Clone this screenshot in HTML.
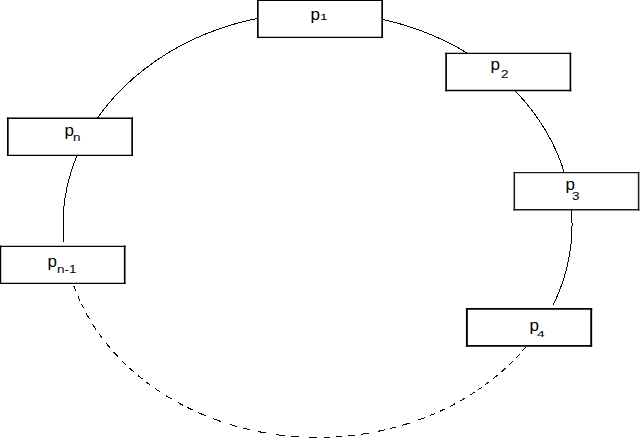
<!DOCTYPE html>
<html><head><meta charset="utf-8">
<style>
html,body{margin:0;padding:0;background:#fff;}
body{width:640px;height:438px;overflow:hidden;position:relative;font-family:"Liberation Sans",sans-serif;}
svg{position:absolute;left:0;top:0;}
.t{position:absolute;white-space:nowrap;color:#000;line-height:1;}
.p{font-size:17px;}
.s{font-size:10px;transform:scaleX(1.35);transform-origin:0 0;}
</style></head><body>
<svg width="640" height="438" viewBox="0 0 640 438">
<path d="M63.94,242.30 A254.479,212.509 0 1 1 553.47,304.60" fill="none" stroke="#000" stroke-width="1" shape-rendering="crispEdges"/>
<path d="M525.79,347.07 L524.72,348.33 523.63,349.59 522.54,350.84 M519.49,354.23 L518.35,355.46 517.20,356.69 516.03,357.91 M512.74,361.27 L511.51,362.49 510.26,363.70 509.01,364.91 M505.42,368.25 L504.09,369.46 502.74,370.67 501.37,371.87 M497.43,375.23 L496.01,376.41 494.58,377.57 493.14,378.73 M488.87,382.05 L487.56,383.04 486.24,384.02 484.92,384.99 M482.04,387.06 L480.78,387.94 479.52,388.82 478.24,389.69 M474.56,392.15 L473.03,393.14 471.48,394.13 469.93,395.11 M464.82,398.22 L463.13,399.21 461.44,400.19 459.73,401.16 M455.28,403.60 L453.56,404.52 451.82,405.43 450.08,406.32 M444.90,408.89 L443.15,409.73 441.39,410.55 439.62,411.37 M435.11,413.38 L433.31,414.16 431.50,414.92 429.68,415.67 M424.77,417.63 L422.51,418.50 420.24,419.34 417.95,420.17 M409.81,422.96 L407.35,423.74 404.88,424.51 402.41,425.25 M396.19,427.01 L394.04,427.58 391.89,428.14 389.73,428.68 M384.92,429.83 L382.52,430.37 380.10,430.89 377.68,431.39 M368.94,433.03 L366.37,433.46 363.79,433.87 361.21,434.26 M355.02,435.09 L352.76,435.37 350.49,435.62 348.22,435.86 M342.10,436.42 L339.98,436.58 337.85,436.73 335.73,436.87 M330.44,437.14 L328.21,437.22 325.98,437.29 323.75,437.35 M317.36,437.41 L314.59,437.39 311.82,437.35 309.05,437.29 M299.45,436.87 L296.59,436.69 293.74,436.47 290.90,436.24 M284.63,435.62 L281.75,435.29 278.87,434.94 276.00,434.55 M266.45,433.08 L263.51,432.56 260.57,432.01 257.64,431.43 M250.12,429.81 L247.65,429.23 245.18,428.63 242.72,428.01 M237.35,426.57 L234.80,425.86 232.26,425.11 229.73,424.35 M221.30,421.62 L218.55,420.66 215.81,419.68 213.08,418.67 M205.52,415.70 L203.13,414.71 200.75,413.70 198.38,412.66 M192.50,409.98 L190.62,409.08 188.75,408.17 186.89,407.25 M183.02,405.28 L181.22,404.33 179.43,403.37 177.65,402.40 M172.09,399.26 L170.09,398.09 168.11,396.90 166.13,395.69 M160.13,391.86 L158.32,390.66 156.53,389.45 154.76,388.23 M150.58,385.26 L149.11,384.18 147.64,383.09 146.18,381.99 M142.65,379.25 L141.19,378.09 139.75,376.92 138.31,375.74 M133.84,371.94 L132.44,370.71 131.04,369.46 129.66,368.21 M126.45,365.22 L125.06,363.89 123.68,362.55 122.32,361.20 M118.14,356.91 L116.67,355.35 115.23,353.78 113.80,352.20 M109.70,347.49 L108.36,345.90 107.04,344.29 105.74,342.67 M102.44,338.43 L101.27,336.86 100.11,335.29 98.97,333.71 M96.07,329.53 L94.92,327.82 93.79,326.10 92.68,324.36 M89.33,318.89 L88.28,317.08 87.24,315.27 86.23,313.45 M83.54,308.37 L82.77,306.86 82.02,305.34 81.28,303.81 M79.95,300.97 L79.27,299.48 78.60,297.97 77.95,296.47 M75.85,291.35 L75.17,289.61 74.51,287.86 73.87,286.10" fill="none" stroke="#000" stroke-width="1" shape-rendering="crispEdges"/>
<g>
<rect x="257.85" y="0.25" width="124.3" height="37.05" fill="#fff"/>
<path d="M256.90,0.25H383.10M256.90,37.30H383.10" stroke="#000" stroke-width="1.3" fill="none"/>
<path d="M257.85,-0.47V38.02M382.15,-0.47V38.02" stroke="#000" stroke-width="1.65" fill="none"/>
<rect x="446.1" y="53.45" width="124.3" height="37.05" fill="#fff"/>
<path d="M445.15,53.45H571.35M445.15,90.50H571.35" stroke="#000" stroke-width="1.3" fill="none"/>
<path d="M446.10,52.73V91.22M570.40,52.73V91.22" stroke="#000" stroke-width="1.65" fill="none"/>
<rect x="514.3" y="172.65" width="124.3" height="37.05" fill="#fff"/>
<path d="M513.55,172.65H639.35M513.55,209.70H639.35" stroke="#1a1a1a" stroke-width="1.35" fill="none"/>
<path d="M514.30,171.97V210.38M638.60,171.97V210.38" stroke="#1a1a1a" stroke-width="1.5" fill="none"/>
<rect x="466.9" y="308.8" width="124.3" height="37.05" fill="#fff"/>
<path d="M465.95,308.80H592.15M465.95,345.85H592.15" stroke="#000" stroke-width="1.85" fill="none"/>
<path d="M466.90,307.88V346.78M591.20,307.88V346.78" stroke="#000" stroke-width="1.9" fill="none"/>
<rect x="7.85" y="118.25" width="124.3" height="37.05" fill="#fff"/>
<path d="M6.90,118.25H133.10M6.90,155.30H133.10" stroke="#000" stroke-width="1.3" fill="none"/>
<path d="M7.85,117.53V156.03M132.15,117.53V156.03" stroke="#000" stroke-width="1.65" fill="none"/>
<rect x="0.4" y="246.3" width="124.3" height="37.05" fill="#fff"/>
<path d="M-0.55,246.30H125.65M-0.55,283.35H125.65" stroke="#000" stroke-width="1.3" fill="none"/>
<path d="M0.40,245.58V284.08M124.70,245.58V284.08" stroke="#000" stroke-width="1.65" fill="none"/>
</g>
</svg>
<div class="t p" style="left:310.5px;top:6px">p</div><div class="t s" style="left:319.5px;top:12px;font-size:9.5px;transform:scaleX(1.45)">1</div>
<div class="t p" style="left:490.5px;top:56px">p</div><div class="t s" style="left:500.5px;top:70px">2</div>
<div class="t p" style="left:565.5px;top:176px">p</div><div class="t s" style="left:572.3px;top:192px">3</div>
<div class="t p" style="left:529.5px;top:317px">p</div><div class="t s" style="left:536.5px;top:329px;font-size:9.5px;transform:scaleX(1.45)">4</div>
<div class="t p" style="left:64.5px;top:122px">p</div><div class="t s" style="left:73.3px;top:133px">n</div>
<div class="t p" style="left:47.5px;top:253px">p</div><div class="t s" style="left:57px;top:265px">n-1</div>
</body></html>
